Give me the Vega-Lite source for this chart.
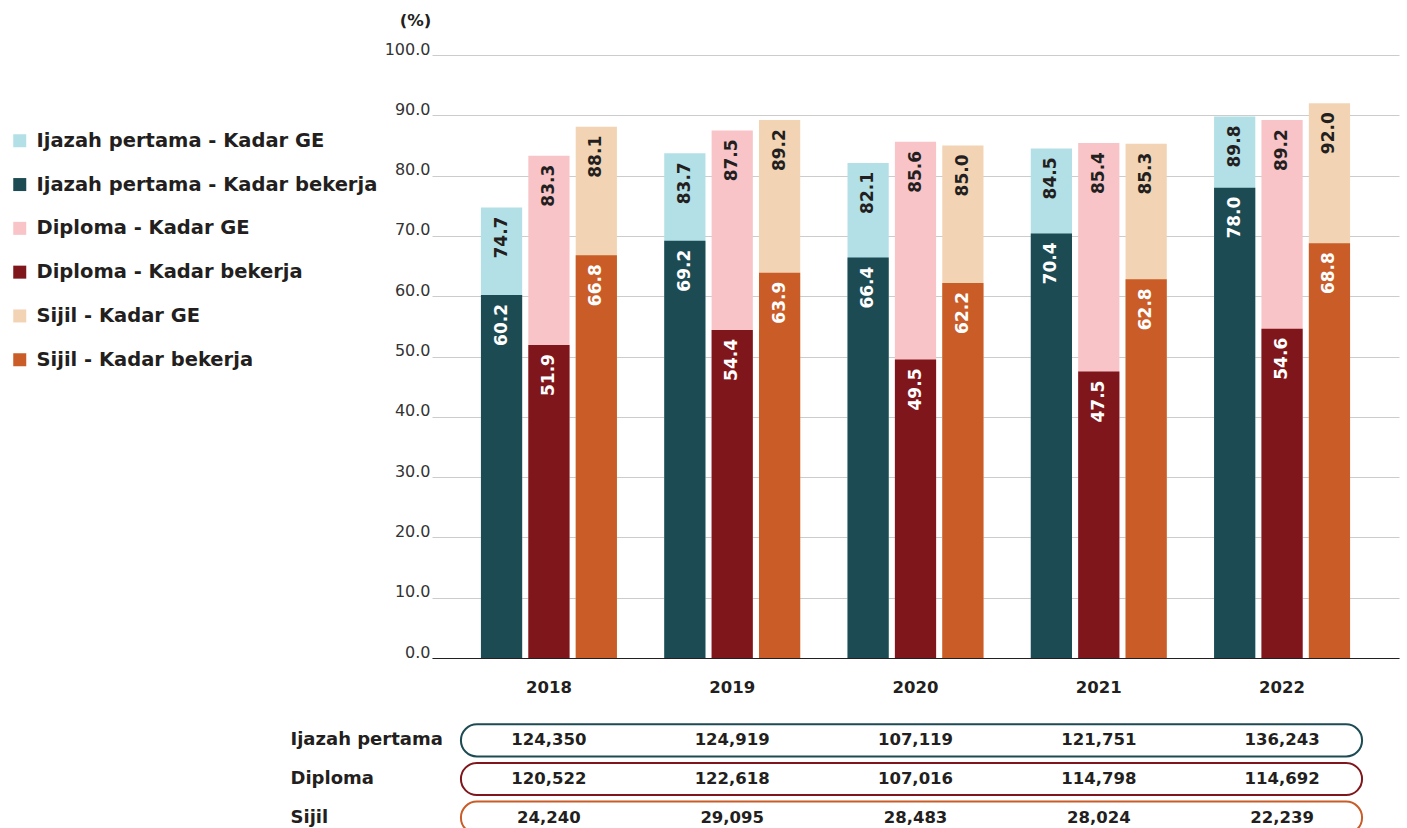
{
  "$schema": "https://vega.github.io/schema/vega-lite/v6.json",
  "background": "white",
  "padding": {"left": 10, "top": 12, "right": 7, "bottom": 0},
  "config": {
    "font": "DejaVu Sans",
    "view": {"stroke": null}
  },
  "spacing": 25,
  "datasets": {
    "rates": [
      {"year": "2018", "edu": "Ijazah pertama", "measure": "Kadar GE", "series": "Ijazah pertama - Kadar GE", "value": 74.7},
      {"year": "2019", "edu": "Ijazah pertama", "measure": "Kadar GE", "series": "Ijazah pertama - Kadar GE", "value": 83.7},
      {"year": "2020", "edu": "Ijazah pertama", "measure": "Kadar GE", "series": "Ijazah pertama - Kadar GE", "value": 82.1},
      {"year": "2021", "edu": "Ijazah pertama", "measure": "Kadar GE", "series": "Ijazah pertama - Kadar GE", "value": 84.5},
      {"year": "2022", "edu": "Ijazah pertama", "measure": "Kadar GE", "series": "Ijazah pertama - Kadar GE", "value": 89.8},
      {"year": "2018", "edu": "Diploma", "measure": "Kadar GE", "series": "Diploma - Kadar GE", "value": 83.3},
      {"year": "2019", "edu": "Diploma", "measure": "Kadar GE", "series": "Diploma - Kadar GE", "value": 87.5},
      {"year": "2020", "edu": "Diploma", "measure": "Kadar GE", "series": "Diploma - Kadar GE", "value": 85.6},
      {"year": "2021", "edu": "Diploma", "measure": "Kadar GE", "series": "Diploma - Kadar GE", "value": 85.4},
      {"year": "2022", "edu": "Diploma", "measure": "Kadar GE", "series": "Diploma - Kadar GE", "value": 89.2},
      {"year": "2018", "edu": "Sijil", "measure": "Kadar GE", "series": "Sijil - Kadar GE", "value": 88.1},
      {"year": "2019", "edu": "Sijil", "measure": "Kadar GE", "series": "Sijil - Kadar GE", "value": 89.2},
      {"year": "2020", "edu": "Sijil", "measure": "Kadar GE", "series": "Sijil - Kadar GE", "value": 85.0},
      {"year": "2021", "edu": "Sijil", "measure": "Kadar GE", "series": "Sijil - Kadar GE", "value": 85.3},
      {"year": "2022", "edu": "Sijil", "measure": "Kadar GE", "series": "Sijil - Kadar GE", "value": 92.0},
      {"year": "2018", "edu": "Ijazah pertama", "measure": "Kadar bekerja", "series": "Ijazah pertama - Kadar bekerja", "value": 60.2},
      {"year": "2019", "edu": "Ijazah pertama", "measure": "Kadar bekerja", "series": "Ijazah pertama - Kadar bekerja", "value": 69.2},
      {"year": "2020", "edu": "Ijazah pertama", "measure": "Kadar bekerja", "series": "Ijazah pertama - Kadar bekerja", "value": 66.4},
      {"year": "2021", "edu": "Ijazah pertama", "measure": "Kadar bekerja", "series": "Ijazah pertama - Kadar bekerja", "value": 70.4},
      {"year": "2022", "edu": "Ijazah pertama", "measure": "Kadar bekerja", "series": "Ijazah pertama - Kadar bekerja", "value": 78.0},
      {"year": "2018", "edu": "Diploma", "measure": "Kadar bekerja", "series": "Diploma - Kadar bekerja", "value": 51.9},
      {"year": "2019", "edu": "Diploma", "measure": "Kadar bekerja", "series": "Diploma - Kadar bekerja", "value": 54.4},
      {"year": "2020", "edu": "Diploma", "measure": "Kadar bekerja", "series": "Diploma - Kadar bekerja", "value": 49.5},
      {"year": "2021", "edu": "Diploma", "measure": "Kadar bekerja", "series": "Diploma - Kadar bekerja", "value": 47.5},
      {"year": "2022", "edu": "Diploma", "measure": "Kadar bekerja", "series": "Diploma - Kadar bekerja", "value": 54.6},
      {"year": "2018", "edu": "Sijil", "measure": "Kadar bekerja", "series": "Sijil - Kadar bekerja", "value": 66.8},
      {"year": "2019", "edu": "Sijil", "measure": "Kadar bekerja", "series": "Sijil - Kadar bekerja", "value": 63.9},
      {"year": "2020", "edu": "Sijil", "measure": "Kadar bekerja", "series": "Sijil - Kadar bekerja", "value": 62.2},
      {"year": "2021", "edu": "Sijil", "measure": "Kadar bekerja", "series": "Sijil - Kadar bekerja", "value": 62.8},
      {"year": "2022", "edu": "Sijil", "measure": "Kadar bekerja", "series": "Sijil - Kadar bekerja", "value": 68.8}
    ],
    "counts": [
      {"year": "2018", "edu": "Ijazah pertama", "graduates": 124350},
      {"year": "2019", "edu": "Ijazah pertama", "graduates": 124919},
      {"year": "2020", "edu": "Ijazah pertama", "graduates": 107119},
      {"year": "2021", "edu": "Ijazah pertama", "graduates": 121751},
      {"year": "2022", "edu": "Ijazah pertama", "graduates": 136243},
      {"year": "2018", "edu": "Diploma", "graduates": 120522},
      {"year": "2019", "edu": "Diploma", "graduates": 122618},
      {"year": "2020", "edu": "Diploma", "graduates": 107016},
      {"year": "2021", "edu": "Diploma", "graduates": 114798},
      {"year": "2022", "edu": "Diploma", "graduates": 114692},
      {"year": "2018", "edu": "Sijil", "graduates": 24240},
      {"year": "2019", "edu": "Sijil", "graduates": 29095},
      {"year": "2020", "edu": "Sijil", "graduates": 28483},
      {"year": "2021", "edu": "Sijil", "graduates": 28024},
      {"year": "2022", "edu": "Sijil", "graduates": 22239}
    ],
    "rows": [
      {"edu": "Ijazah pertama", "from": "2018", "to": "2022"},
      {"edu": "Diploma", "from": "2018", "to": "2022"},
      {"edu": "Sijil", "from": "2018", "to": "2022"}
    ]
  },
  "resolve": {"legend": {"color": "independent"}},
  "vconcat": [
    {
      "width": 967,
      "height": 603,
      "data": {"name": "rates"},
      "encoding": {
        "x": {
          "field": "year", "type": "nominal",
          "scale": {"domain": ["2018", "2019", "2020", "2021", "2022"], "paddingInner": 0.258, "paddingOuter": 0.267},
          "axis": {"title": null, "labelAngle": 0, "ticks": false, "labelPadding": 21, "labelFontSize": 16.5, "labelFontWeight": "bold", "labelColor": "#231f20", "domainColor": "#231f20", "domainWidth": 1}
        },
        "xOffset": {
          "field": "edu", "type": "nominal",
          "scale": {"domain": ["Ijazah pertama", "Diploma", "Sijil"], "paddingInner": 0.13, "paddingOuter": 0}
        },
        "y": {
          "field": "value", "type": "quantitative", "stack": null,
          "scale": {"domain": [0, 100], "nice": false},
          "axis": {
            "title": "(%)", "titleAngle": 0, "titleX": -17, "titleY": -35, "titleAlign": "center", "titleBaseline": "middle",
            "titleFontSize": 16.5, "titleFontWeight": "bold", "titleColor": "#231f20",
            "values": [0, 10, 20, 30, 40, 50, 60, 70, 80, 90, 100],
            "format": ".1f", "labelFontSize": 16, "labelColor": "#333333", "labelPadding": 2, "labelBaseline": "alphabetic", "labelOffset": -1,
            "ticks": false, "domain": false, "grid": true, "gridColor": "#cccccc", "gridWidth": 1
          }
        }
      },
      "layer": [
        {
          "mark": {"type": "bar"},
          "encoding": {
            "color": {
              "field": "series", "type": "nominal",
              "scale": {
                "domain": ["Ijazah pertama - Kadar GE", "Ijazah pertama - Kadar bekerja", "Diploma - Kadar GE", "Diploma - Kadar bekerja", "Sijil - Kadar GE", "Sijil - Kadar bekerja"],
                "range": ["#b3e0e6", "#1d4b54", "#f8c4c8", "#7f161b", "#f2d4b4", "#c95c27"]
              },
              "legend": {
                "orient": "none", "legendX": -422, "legendY": 76, "title": null,
                "symbolType": "square", "symbolSize": 169, "symbolStrokeWidth": 0,
                "labelFontSize": 19.5, "labelFontWeight": "bold", "labelColor": "#231f20",
                "labelOffset": 7, "rowPadding": 22.8, "labelLimit": 420, "padding": 0
              }
            }
          }
        },
        {
          "mark": {"type": "text", "angle": 270, "align": "right", "baseline": "middle", "dx": -9, "fontSize": 17, "fontWeight": "bold"},
          "encoding": {
            "text": {"field": "value", "type": "quantitative", "format": ".1f"},
            "color": {"condition": {"test": "datum.measure === 'Kadar GE'", "value": "#231f20"}, "value": "#ffffff"}
          }
        }
      ]
    },
    {
      "width": 967,
      "height": 116,
      "encoding": {
        "y": {
          "field": "edu", "type": "nominal",
          "scale": {"domain": ["Ijazah pertama", "Diploma", "Sijil"], "paddingInner": 0.17, "paddingOuter": 0.085},
          "axis": {"title": null, "ticks": false, "domain": false, "labelAlign": "left", "labelPadding": 142, "labelFontSize": 18, "labelFontWeight": "bold", "labelColor": "#231f20"}
        }
      },
      "layer": [
        {
          "data": {"name": "rows"},
          "mark": {"type": "rect", "cornerRadius": 16, "fill": "white", "strokeWidth": 2, "xOffset": -20, "x2Offset": 12},
          "encoding": {
            "x": {
              "field": "from", "type": "nominal", "bandPosition": 0,
              "scale": {"domain": ["2018", "2019", "2020", "2021", "2022"], "paddingInner": 0.258, "paddingOuter": 0.267},
              "axis": null
            },
            "x2": {"field": "to", "bandPosition": 1},
            "stroke": {
              "field": "edu", "type": "nominal",
              "scale": {"domain": ["Ijazah pertama", "Diploma", "Sijil"], "range": ["#1d4b54", "#7f161b", "#c95c27"]},
              "legend": null
            }
          }
        },
        {
          "data": {"name": "counts"},
          "mark": {"type": "text", "fontSize": 16.5, "fontWeight": "bold", "color": "#231f20"},
          "encoding": {
            "x": {"field": "year", "type": "nominal"},
            "text": {"field": "graduates", "type": "quantitative", "format": ","}
          }
        }
      ]
    }
  ]
}
